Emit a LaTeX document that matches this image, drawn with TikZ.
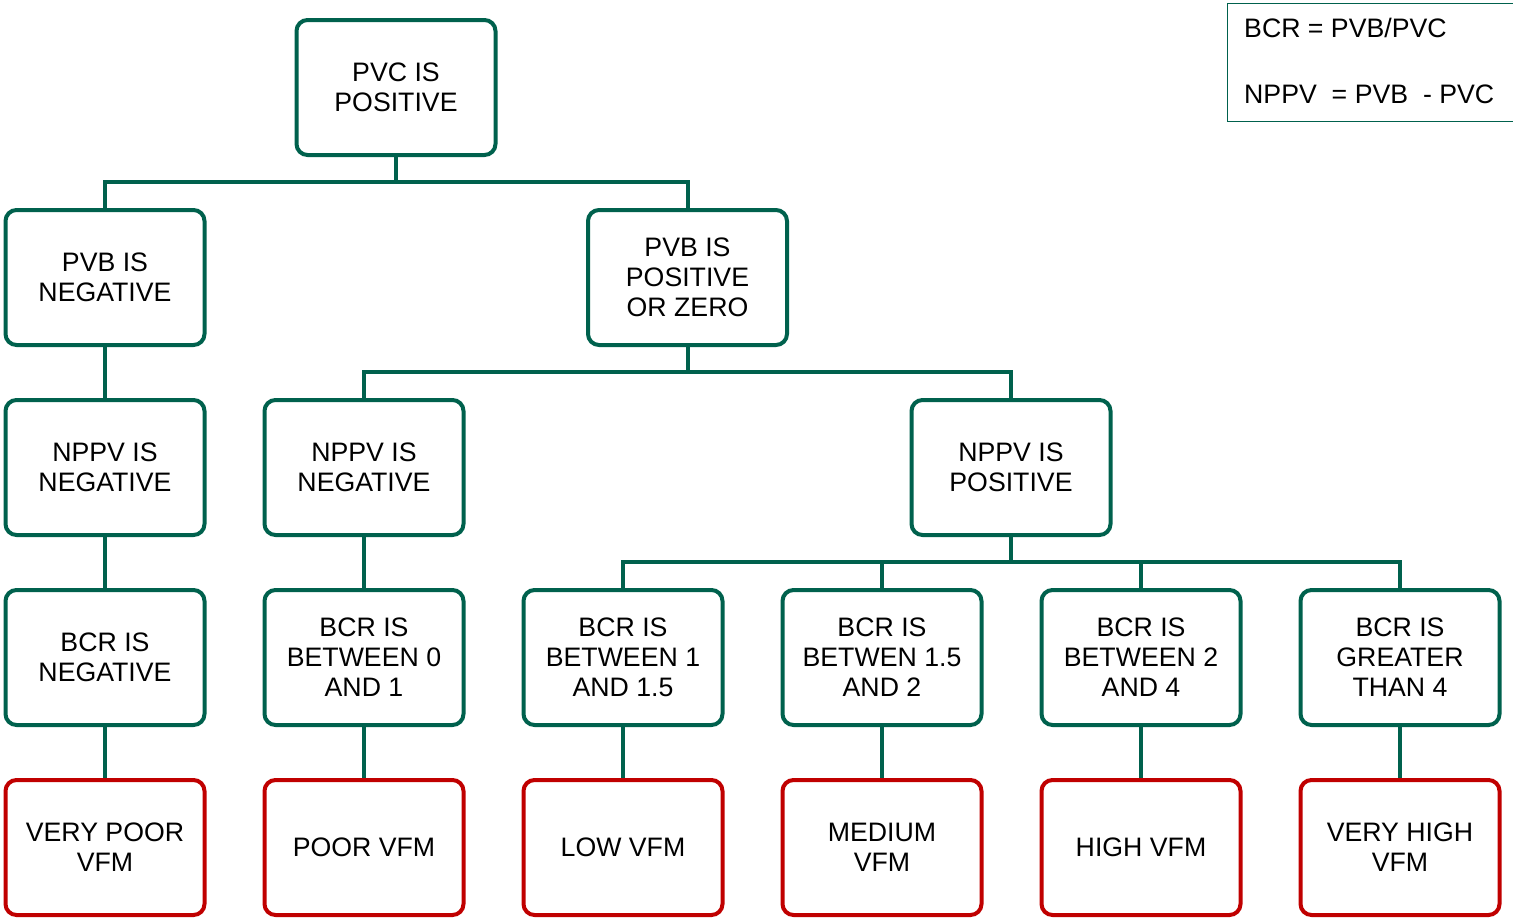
\documentclass[tikz,border=0pt]{standalone}
\usepackage{fontspec}
\setmainfont{Liberation Sans}
\usetikzlibrary{backgrounds}
\definecolor{boxgreen}{RGB}{0,97,77}
\definecolor{boxred}{RGB}{192,0,0}
\tikzset{
  box/.style={draw=boxgreen, fill=white, line width=4pt, rounded corners=11pt,
    minimum width=199pt, minimum height=135pt, inner sep=0pt, align=center,
    font=\fontsize{26.7}{30}\selectfont},
  redbox/.style={box, draw=boxred},
  conn/.style={draw=boxgreen, line width=4pt, line join=miter},
  legendbox/.style={draw=boxgreen, line width=1.4pt, minimum width=300pt,
    minimum height=118.5pt, inner sep=0pt},
  legendtext/.style={font=\fontsize{26.7}{30}\selectfont, inner sep=0pt}
}
\begin{document}
\begin{tikzpicture}[x=1pt,y=-1pt]
\useasboundingbox (0,0) rectangle (1513,918);
\clip (0,0) rectangle (1513,918);
% level 1
\node[box] (top) at (396,87.5) {PVC IS\\POSITIVE};
% level 2
\node[box] (pvbneg) at (105,277.5) {PVB IS\\NEGATIVE};
\node[box] (pvbpos) at (687.5,277.5) {PVB IS\\POSITIVE\\OR ZERO};
% level 3
\node[box] (nppvnegA) at (105,467.5) {NPPV IS\\NEGATIVE};
\node[box] (nppvnegB) at (364,467.5) {NPPV IS\\NEGATIVE};
\node[box] (nppvpos) at (1011,467.5) {NPPV IS\\POSITIVE};
% level 4
\node[box] (bcrneg) at (105,657.5) {BCR IS\\NEGATIVE};
\node[box] (bcrA) at (364,657.5) {BCR IS\\BETWEEN 0\\AND 1};
\node[box] (bcrB) at (623,657.5) {BCR IS\\BETWEEN 1\\AND 1.5};
\node[box] (bcrC) at (882,657.5) {BCR IS\\BETWEN 1.5\\AND 2};
\node[box] (bcrD) at (1141,657.5) {BCR IS\\BETWEEN 2\\AND 4};
\node[box] (bcrE) at (1400,657.5) {BCR IS\\GREATER\\THAN 4};
% level 5
\node[redbox] (vfmA) at (105,847.5) {VERY POOR\\VFM};
\node[redbox] (vfmB) at (364,847.5) {POOR VFM};
\node[redbox] (vfmC) at (623,847.5) {LOW VFM};
\node[redbox] (vfmD) at (882,847.5) {MEDIUM\\VFM};
\node[redbox] (vfmE) at (1141,847.5) {HIGH VFM};
\node[redbox] (vfmF) at (1400,847.5) {VERY HIGH\\VFM};
% legend
\node[legendbox, anchor=north west] (legend) at (1226.5,2.5) {};
\node[legendtext, anchor=base west] (legA) at (1244,37) {BCR = PVB/PVC};
\node[legendtext, anchor=base west] (legB) at (1244,103) {NPPV\ \ = PVB\ \ - PVC};
% buses
\coordinate (b1) at (396,182);
\coordinate (b2) at (687.5,372);
\coordinate (b3) at (1011,562);
\begin{scope}[on background layer]
\draw[conn] (top.south) -- (b1);
\draw[conn] (pvbneg.north) |- (b1) -| (pvbpos.north);
\draw[conn] (pvbpos.south) -- (b2);
\draw[conn] (nppvnegB.north) |- (b2) -| (nppvpos.north);
\draw[conn] (nppvpos.south) -- (b3);
\draw[conn] (bcrB.north) |- (b3) -| (bcrE.north);
\draw[conn] (bcrC.north) -- (bcrC.north |- b3);
\draw[conn] (bcrD.north) -- (bcrD.north |- b3);
\draw[conn] (pvbneg.south) -- (nppvnegA.north);
\draw[conn] (nppvnegA.south) -- (bcrneg.north);
\draw[conn] (nppvnegB.south) -- (bcrA.north);
\draw[conn] (bcrneg.south) -- (vfmA.north);
\draw[conn] (bcrA.south) -- (vfmB.north);
\draw[conn] (bcrB.south) -- (vfmC.north);
\draw[conn] (bcrC.south) -- (vfmD.north);
\draw[conn] (bcrD.south) -- (vfmE.north);
\draw[conn] (bcrE.south) -- (vfmF.north);
\end{scope}
\end{tikzpicture}
\end{document}
